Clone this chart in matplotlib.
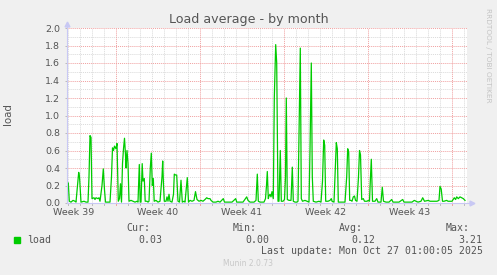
import matplotlib
matplotlib.use("Agg")
import matplotlib.pyplot as plt
import matplotlib.transforms as mtransforms


# hours since the left edge of the graph, and the load average at that time
hours = [0, 1.4, 2.6, 4.6, 8, 12, 16, 18, 21, 23.4, 25, 28, 34, 38, 42, 44, 46, 48, 50,
         54, 56, 58, 62, 64, 66, 70, 72.6, 75, 77, 86, 89, 91, 93, 95, 98, 100, 102.6,
         105, 107, 109, 111, 113, 115, 117, 118, 120, 122, 124, 128, 132, 136, 140, 142,
         144.6, 146.4, 148, 150.4, 152, 154.6, 156.4, 160, 162, 164, 166.6, 168.6, 170.6,
         172.6, 174.4, 178, 182, 186, 190, 191.4, 193, 194.6, 198, 200, 202, 204, 206,
         210, 213, 214.6, 217, 219.4, 222, 225, 228, 230.6, 234, 236, 239, 240.6, 243,
         246, 250, 254, 257, 260, 264, 268, 272, 276, 279.4, 282, 286, 288, 292, 298,
         302, 306, 312.6, 315, 322, 330, 337.4, 339.4, 346, 352, 359.4, 362, 366, 374,
         378, 380.6, 382.6, 386, 390, 394, 397, 399, 400.6, 402.6, 404, 406, 408, 410,
         412.6, 414.6, 417.4, 419.4, 422, 424, 426.6, 428.6, 432, 435, 437, 438.6, 440.6,
         444, 448, 450.6, 452.6, 456, 460, 462, 464, 466.6, 468.6, 471, 476, 480, 484,
         486, 488.6, 490.6, 492.6, 498, 504, 508, 511, 513.4, 515.4, 517.4, 522, 526,
         528.6, 530, 534, 536.6, 538.6, 540.6, 542.6, 550, 556, 559.4, 561.4, 563.4,
         565.4, 568, 570, 572.6, 575, 577, 580, 583, 585, 587, 589.4, 592.6, 595, 600,
         602.6, 605, 606.6, 608.6, 611, 616, 619.4, 622, 628, 630.6, 633, 638, 644,
         649.4, 652, 658, 664, 671.4, 674, 682, 690, 694.6, 698, 702, 708, 711.4, 715,
         722.6, 726, 734, 740, 744, 746, 748.4, 751, 754, 759.4, 762, 766, 770, 774.6,
         777.2, 779.4, 782.6, 786, 789.4, 792.6, 796]
load = [0.15, 0.22, 0.23, 0.02, 0.01, 0.03, 0.02, 0.01, 0.2, 0.35, 0.3, 0.01, 0.02, 0.01,
        0.01, 0.3, 0.77, 0.75, 0.05, 0.06, 0.04, 0.06, 0.05, 0.06, 0.02, 0.2, 0.39, 0.15,
        0.01, 0.01, 0.3, 0.63, 0.6, 0.65, 0.62, 0.68, 0.02, 0.05, 0.22, 0.01, 0.45, 0.62,
        0.74, 0.55, 0.4, 0.6, 0.45, 0.02, 0.03, 0.02, 0.01, 0.02, 0.01, 0.44, 0.01, 0.01,
        0.45, 0.25, 0.28, 0.02, 0.02, 0.01, 0.02, 0.4, 0.57, 0.2, 0.28, 0.02, 0.03, 0.01,
        0.02, 0.3, 0.48, 0.2, 0.02, 0.02, 0.07, 0.02, 0.1, 0.02, 0.01, 0.1, 0.33, 0.32,
        0.32, 0.02, 0.01, 0.26, 0.01, 0.02, 0.01, 0.2, 0.29, 0.01, 0.03, 0.02, 0.03, 0.13,
        0.04, 0.02, 0.03, 0.02, 0.04, 0.06, 0.05, 0.05, 0.03, 0.01, 0.01, 0.02, 0.01,
        0.05, 0.01, 0.01, 0.01, 0.05, 0.01, 0.01, 0.01, 0.07, 0.03, 0.01, 0.01, 0.03,
        0.33, 0.02, 0.01, 0.01, 0.01, 0.05, 0.2, 0.36, 0.05, 0.08, 0.1, 0.07, 0.13, 0.05,
        1.2, 1.81, 1.6, 0.02, 0.02, 0.6, 0.02, 0.02, 0.04, 0.3, 1.2, 0.04, 0.03, 0.03,
        0.41, 0.02, 0.01, 0.01, 0.02, 0.8, 1.77, 0.05, 0.02, 0.03, 0.02, 0.01, 0.6, 1.6,
        0.3, 0.02, 0.01, 0.02, 0.01, 0.25, 0.72, 0.66, 0.02, 0.02, 0.03, 0.05, 0.02, 0.01,
        0.4, 0.69, 0.62, 0.01, 0.01, 0.01, 0.3, 0.62, 0.58, 0.03, 0.03, 0.02, 0.07, 0.08,
        0.03, 0.02, 0.3, 0.6, 0.55, 0.04, 0.05, 0.02, 0.02, 0.03, 0.02, 0.25, 0.5, 0.02,
        0.02, 0.05, 0.01, 0.01, 0.18, 0.02, 0.01, 0.01, 0.04, 0.01, 0.01, 0.01, 0.04,
        0.01, 0.01, 0.01, 0.03, 0.02, 0.01, 0.02, 0.06, 0.02, 0.03, 0.02, 0.02, 0.02,
        0.03, 0.19, 0.16, 0.02, 0.02, 0.03, 0.02, 0.02, 0.02, 0.06, 0.04, 0.07, 0.05,
        0.07, 0.06, 0.05, 0.03]

span_hours = 800
first_monday = 98          # hour of the first week boundary
week_labels = ["Week 39", "Week 40", "Week 41", "Week 42", "Week 43"]
y_ticks = [0.0, 0.2, 0.4, 0.6, 0.8, 1.0, 1.2, 1.4, 1.6, 1.8, 2.0]

stat_names = ["Cur:", "Min:", "Avg:", "Max:"]
stat_values = ["0.03", "0.00", "0.12", "3.21"]

GREEN = "#00CC00"
TEXT = "#555555"
W, H = 497, 275

fig = plt.figure(figsize=(W / 100, H / 100), dpi=100, facecolor="#F0F0F0")
ax = fig.add_axes([67 / W, 1 - 203 / H, 400 / W, 175 / H])
ax.set_facecolor("white")
for s in ax.spines.values():
    s.set_visible(False)

ax.set_xlim(0, span_hours)
ax.set_ylim(0, 2.0)

# grid: grey dotted every day / 0.1, red dotted at week starts / 0.2
dot = (0, (1, 1))
for h in range(first_monday % 24, span_hours + 1, 24):
    if (h - first_monday) % 168 == 0:
        continue
    ax.axvline(h, color="#DADADA", lw=0.7, ls=dot, zorder=1)
for i in range(21):
    if i % 2:
        ax.axhline(i / 10, color="#DADADA", lw=0.7, ls=dot, zorder=1)
week_bounds = list(range(first_monday, span_hours, 168))
for h in week_bounds:
    ax.axvline(h, color="#F0A0A0", lw=0.7, ls=dot, zorder=1)
for v in y_ticks[1:]:
    ax.axhline(v, color="#F0A0A0", lw=0.7, ls=dot, zorder=1)

ax.plot(hours, load, color=GREEN, lw=0.9, zorder=3)

# axis ticks and labels
ax.set_yticks(y_ticks)
ax.set_yticklabels(["%.1f" % v for v in y_ticks])
ax.tick_params(axis="y", length=1.5, width=0.7, color="#BBBBBB", pad=3.5,
               labelsize=6.8, labelcolor=TEXT)
ax.set_xticks([b - 84 for b in week_bounds])
ax.set_xticklabels(week_labels)
ax.tick_params(axis="x", length=0, pad=3.5, labelsize=6.8, labelcolor=TEXT)

tr = mtransforms.blended_transform_factory(ax.transData, ax.transAxes)
for h in range(first_monday % 24, span_hours + 1, 24):
    c = "#F0A0A0" if (h - first_monday) % 168 == 0 else "#BBBBBB"
    ax.plot([h, h], [0, -0.012], color=c, lw=0.7, transform=tr, clip_on=False, zorder=4)

# axis lines with arrows
axis_c = "#C8C8F4"
ax.plot([0, 1.01], [0, 0], color=axis_c, lw=0.8, transform=ax.transAxes, clip_on=False, zorder=4)
ax.plot([0, 0], [0, 1.02], color=axis_c, lw=0.8, transform=ax.transAxes, clip_on=False, zorder=4)
ax.plot([1.012], [0], marker=">", ms=3.5, color=axis_c, transform=ax.transAxes, clip_on=False)
ax.plot([0], [1.025], marker="^", ms=3.5, color=axis_c, transform=ax.transAxes, clip_on=False)

fig.text(248.5 / W, 1 - 19 / H, "Load average - by month", ha="center", va="center",
         fontsize=9.1, color=TEXT)
fig.text(8 / W, 1 - 114 / H, "load", rotation=90, ha="center", va="center",
         fontsize=7.4, color=TEXT)
fig.text(487.7 / W, 1 - 55 / H, "RRDTOOL / TOBI OETIKER", rotation=270, ha="center",
         va="center", fontsize=5.3, color="#C4C4C4")

# legend block
mono = "DejaVu Sans Mono"
fs = 7.1
name_right = [150.7, 257, 363, 470]
value_right = [162.7, 269.3, 375.7, 482.7]
for name, xr in zip(stat_names, name_right):
    fig.text(xr / W, 1 - 227.7 / H, name, ha="right", va="center", family=mono,
             fontsize=fs, color=TEXT)
for val, xr in zip(stat_values, value_right):
    fig.text(xr / W, 1 - 239.8 / H, val, ha="right", va="center", family=mono,
             fontsize=fs, color=TEXT)
fig.patches.append(plt.Rectangle((14 / W, 1 - 243 / H), 6 / W, 6 / H, color=GREEN,
                                 transform=fig.transFigure, figure=fig))
fig.text(26.7 / W, 1 - 239.8 / H, "load", ha="left", va="center", family=mono,
         fontsize=fs, color=TEXT)
fig.text(482.7 / W, 1 - 251.5 / H, "Last update: Mon Oct 27 01:00:05 2025", ha="right",
         va="center", family=mono, fontsize=fs, color=TEXT)
fig.text(247.7 / W, 1 - 263.7 / H, "Munin 2.0.73", ha="center", va="center",
         fontsize=5.5, color="#C8C8C8")

fig.savefig("out.png", dpi=100, facecolor=fig.get_facecolor())
